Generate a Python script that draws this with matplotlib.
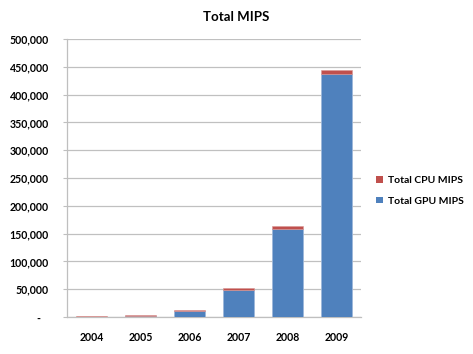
import matplotlib
matplotlib.use("Agg")
import matplotlib.pyplot as plt
from matplotlib.ticker import FuncFormatter, MultipleLocator
from matplotlib.patches import Patch

years = ["2004", "2005", "2006", "2007", "2008", "2009"]
gpu_mips = [600, 2400, 10800, 48800, 159000, 437000]
cpu_mips = [1700, 1800, 2400, 2900, 5000, 6700]
series_names = ["Total CPU MIPS", "Total GPU MIPS"]
title = "Total MIPS"

blue = "#4F81BD"
red = "#C0504D"
font = ["Lato", "DejaVu Sans"]

fig = plt.figure(figsize=(4.73, 3.54), dpi=100)
ax = fig.add_axes([67/473, 1 - 317/354, 294/473, 278/354])

x = list(range(len(years)))
ax.bar(x, gpu_mips, width=0.64, color=blue, edgecolor="#9DB7DA", linewidth=0.6, zorder=3)
ax.bar(x, cpu_mips, width=0.64, bottom=gpu_mips, color=red, edgecolor="#D99795", linewidth=0.4, zorder=3)

ax.set_xlim(-0.5, len(years) - 0.5)
ax.set_ylim(0, 500000)
ax.yaxis.set_major_locator(MultipleLocator(50000))
ax.yaxis.set_major_formatter(FuncFormatter(lambda v, p: "-   " if v == 0 else f"{v:,.0f}"))
ax.set_xticks(x)
ax.set_xticklabels(years)

ax.grid(axis="y", color="#C0C0C0", linewidth=0.9, zorder=0)
for s in ["top", "right"]:
    ax.spines[s].set_visible(False)
ax.spines["left"].set_color("#BFBFBF")
ax.spines["bottom"].set_color("#BFBFBF")
ax.spines["left"].set_linewidth(0.9)
ax.spines["bottom"].set_linewidth(0.9)

ax.tick_params(axis="y", length=3, color="#BFBFBF", pad=10)
ax.tick_params(axis="x", length=0, pad=11)
for lab in ax.get_yticklabels() + ax.get_xticklabels():
    lab.set_fontfamily(font)
    lab.set_fontweight("bold")
    lab.set_fontsize(7.6)
    lab.set_color("#000000")

fig.text(236/473, 1 - 17/354, title, ha="center", va="center",
         fontsize=9.5, fontweight="bold", family=font)

handles = [Patch(facecolor=red, edgecolor="none"), Patch(facecolor=blue, edgecolor="none")]
leg = fig.legend(handles, series_names, loc="center left",
                 bbox_to_anchor=(367/473, 1 - 191/354), frameon=False,
                 prop={"family": font, "weight": "bold", "size": 7.5},
                 handlelength=0.6, handleheight=0.6, handletextpad=0.5,
                 labelspacing=1.1)

fig.savefig("out.png", dpi=100)
